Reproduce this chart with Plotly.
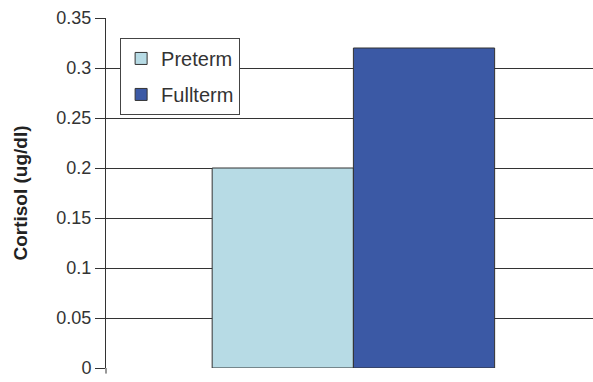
import plotly.graph_objects as go

categories = ["Group"]
series_names = ["Preterm", "Fullterm"]
preterm = [0.20]
fullterm = [0.32]
colors = ["#B7DBE5", "#3B59A5"]
y_ticks = [0, 0.05, 0.1, 0.15, 0.2, 0.25, 0.3, 0.35]
y_tick_labels = ["0", "0.05", "0.1", "0.15", "0.2", "0.25", "0.3", "0.35"]

fig = go.Figure()
for name, vals, col in zip(series_names, [preterm, fullterm], colors):
    fig.add_trace(go.Bar(
        x=categories, y=vals, name=name, legendgroup=name,
        marker=dict(color=col, line=dict(color="#333333", width=1)),
    ))

W, H = 593, 382
l, r, t, b = 106, 0, 18, 14
fig.update_layout(
    width=W, height=H,
    margin=dict(l=l, r=r, t=t, b=b),
    paper_bgcolor="white", plot_bgcolor="white",
    barmode="group", bargap=0.42, bargroupgap=0,
    font=dict(family="Liberation Sans, Arial", size=18, color="#333333"),
    showlegend=True,
    legend=dict(
        x=0.029, y=0.943, xanchor="left", yanchor="top",
        bgcolor="white", bordercolor="#444444", borderwidth=1,
        font=dict(size=20, color="#333333"),
        tracegroupgap=7, entrywidth=92,
    ),
    xaxis=dict(
        range=[-0.508, 0.492], showticklabels=False, showgrid=False,
        showline=False, zeroline=False, ticks="",
    ),
    yaxis=dict(
        range=[0, 0.35], tickvals=y_ticks, ticktext=y_tick_labels,
        showgrid=True, gridcolor="#333333", gridwidth=1,
        showline=True, linecolor="#333333", linewidth=1,
        ticks="outside", ticklen=10, tickcolor="#333333",
        zeroline=False,
        tickfont=dict(size=18, color="#333333"),
        title=dict(text="<b>Cortisol (ug/dl)</b>", font=dict(size=19, color="#222222"), standoff=23),
    ),
    shapes=[dict(type="line", xref="paper", yref="paper", x0=0, x1=0, y0=0, y1=-0.016,
                 line=dict(color="#333333", width=1))],
)
fig.write_html("out.html")
